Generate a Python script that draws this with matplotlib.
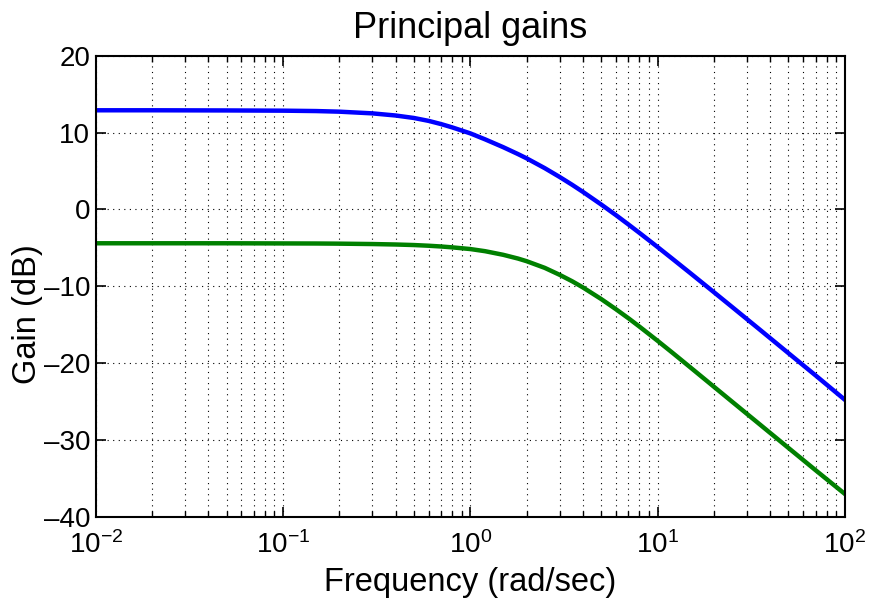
import matplotlib
matplotlib.use("Agg")
import matplotlib.pyplot as plt
from matplotlib.ticker import LogLocator, NullFormatter

# Principal gains (frequency in rad/sec, gain in dB)
FREQ = [0.01, 0.02, 0.05, 0.1, 0.15, 0.2, 0.3, 0.4, 0.5, 0.6, 0.7, 0.8,
        1.0, 1.2, 1.5, 1.8, 2.0, 2.5, 3.0, 3.5, 4.0, 5.0, 6.0, 7.0, 8.0,
        10, 12, 15, 20, 25, 35, 50, 70, 100]
GAIN_MAX = [12.9, 12.9, 12.88, 12.85, 12.8, 12.72, 12.5, 12.22, 11.9,
            11.52, 11.1, 10.68, 9.9, 9.12, 8.1, 7.2, 6.65, 5.37, 4.23,
            3.21, 2.28, 0.65, -0.74, -1.96, -3.04, -4.88, -6.41, -8.3,
            -10.76, -12.68, -15.59, -18.69, -21.61, -24.75]
GAIN_MIN = [-4.4, -4.4, -4.4, -4.42, -4.43, -4.45, -4.5, -4.56, -4.63,
            -4.72, -4.82, -4.93, -5.15, -5.43, -5.9, -6.39, -6.73, -7.6,
            -8.5, -9.34, -10.15, -11.65, -12.98, -14.16, -15.23, -17.08,
            -18.63, -20.56, -23.06, -25.0, -27.92, -31.02, -33.94, -37.0]

YTICKS = [-40, -30, -20, -10, 0, 10, 20]

plt.rcParams["font.family"] = ["Liberation Sans", "DejaVu Sans"]
plt.rcParams["mathtext.fontset"] = "custom"
plt.rcParams["mathtext.rm"] = "Liberation Sans"
plt.rcParams["mathtext.it"] = "Liberation Sans"

fig = plt.figure(figsize=(8.7, 5.99), dpi=100)
ax = fig.add_axes([0.110, 0.137, 0.861, 0.770])

ax.semilogx(FREQ, GAIN_MAX, color=(0, 0, 1), lw=3.2)
ax.semilogx(FREQ, GAIN_MIN, color=(0, 0.5, 0), lw=3.2)

ax.set_xlim(1e-2, 1e2)
ax.set_ylim(-40, 20)
ax.set_yticks(YTICKS)
ax.set_yticklabels([str(v).replace("-", "\u2013") for v in YTICKS])
ax.xaxis.set_major_locator(LogLocator(base=10, numticks=10))
ax.xaxis.set_minor_locator(LogLocator(base=10, subs=range(2, 10), numticks=20))
ax.xaxis.set_minor_formatter(NullFormatter())

# MATLAB-style dotted grid
ax.grid(True, which="major", axis="both", linestyle=(0, (1, 4)), color="black", lw=0.8)
ax.grid(True, which="minor", axis="x", linestyle=(0, (1, 4)), color="black", lw=0.8)

ax.tick_params(which="both", direction="in", top=True, right=True, labelsize=20)
ax.tick_params(which="major", length=7, width=1.2)
ax.tick_params(which="minor", length=4, width=1.0)
ax.tick_params(axis="x", which="major", pad=10)
ax.tick_params(axis="y", which="major", pad=4)
for sp in ax.spines.values():
    sp.set_linewidth(1.5)

ax.set_title("Principal gains", fontsize=26, pad=13)
ax.set_xlabel("Frequency (rad/sec)", fontsize=23.5, labelpad=6)
ax.set_ylabel("Gain (dB)", fontsize=23.5)
ax.yaxis.set_label_coords(-0.070, 0.44)

fig.savefig("out.png", dpi=100)
